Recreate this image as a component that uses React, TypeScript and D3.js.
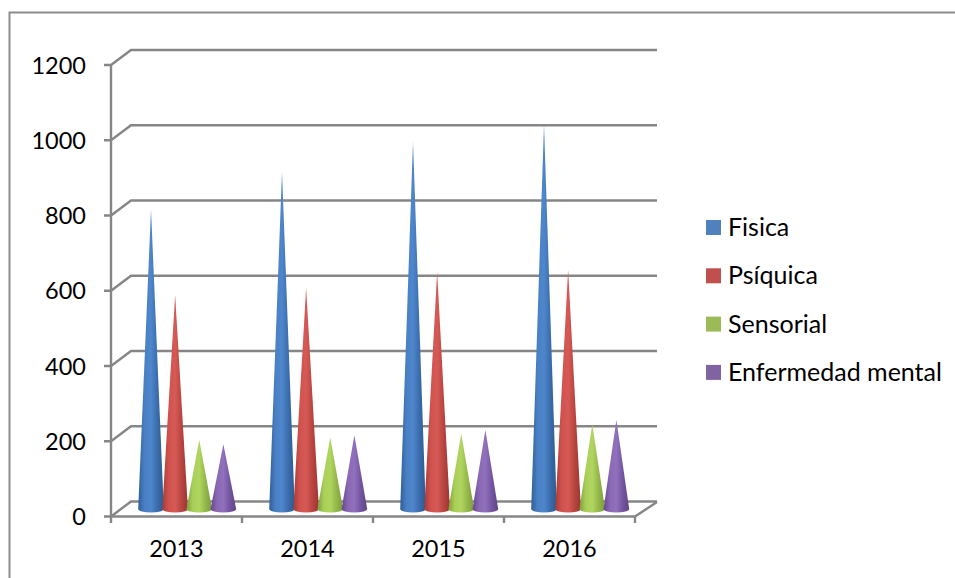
import React from "react";
import * as d3 from "d3";

const categories = ["2013", "2014", "2015", "2016"];
const seriesNames = ["Fisica", "Psíquica", "Sensorial", "Enfermedad mental"];
const fisica = [795, 895, 975, 1020];
const psiquica = [568, 587, 630, 635];
const sensorial = [183, 190, 200, 225];
const enfermedad = [172, 196, 210, 236];
const seriesValues = [fisica, psiquica, sensorial, enfermedad];
const yTicks = [0, 200, 400, 600, 800, 1000, 1200];
const legendColors = ["#4f81bd", "#c0504d", "#9bbb59", "#8064a2"];
const gradientStops = [
  ["#2f5f98", "#4a80c4", "#4f86cc", "#3a6cab", "#2c5a92"],
  ["#a83a36", "#d0524e", "#d65a55", "#b84440", "#9c3431"],
  ["#7f9f3e", "#a9cf58", "#b0d660", "#93b649", "#7c9b3b"],
  ["#62478a", "#8a68b4", "#9070bc", "#7454a0", "#5e4484"],
];
const FONT = "Lato, Carlito, sans-serif";
const GRID = "#868686";

export default function App() {
  const yFront = d3.scaleLinear().domain([0, 1200]).range([516.5, 65]);
  const yBack = d3.scaleLinear().domain([0, 1200]).range([502, 49]);
  const yCone = d3.scaleLinear().domain([0, 1200]).range([509, 57]);
  const xFront = d3.scaleBand().domain(categories).range([111, 635]);
  const band = d3.scaleBand().domain(seriesNames).range([0, 96.5]);
  const baseX = (c: string) => xFront(c)! + 40;
  const hw = 12.8;
  const dx = 20;
  const dyF = 15;
  const sw = 2.4;
  return (
    <svg width={955} height={578} style={{ position: "absolute", left: 0, top: 0, background: "#fff" }}>
      <defs>
        <filter id="soft" x="-20%" y="-5%" width="140%" height="110%">
          <feGaussianBlur stdDeviation="0.45" />
        </filter>
        {gradientStops.map((stops, i) => (
          <linearGradient key={i} id={`g${i}`} x1="0" x2="1" y1="0" y2="0">
            {stops.map((s, k) => (
              <stop key={k} offset={k / (stops.length - 1)} stopColor={s} />
            ))}
          </linearGradient>
        ))}
      </defs>
      <path d="M9.5 578V12.5H955" fill="none" stroke="#8c8c8c" strokeWidth={2} />
      {yTicks.map((t) => (
        <g key={t} stroke={GRID} strokeWidth={sw} fill="none">
          <path d={`M${104} ${yFront(t)}H111L${111 + dx} ${yFront(t) - dyF}H657`} />
        </g>
      ))}
      <path d={`M111 ${yFront(1200)}V${yFront(0)}H635L657 ${yBack(0)}`} fill="none" stroke={GRID} strokeWidth={sw} />
      {[...categories.map((c) => xFront(c)!), 635].map((x, i) => (
        <line key={i} x1={x} x2={x} y1={516.5} y2={523} stroke={GRID} strokeWidth={sw} />
      ))}
      <g filter="url(#soft)">
        {categories.map((c, ci) =>
          seriesNames.map((s, si) => {
            const cx = baseX(c) + band(s)!;
            const base = yCone(0);
            const tip = yCone(seriesValues[si][ci]);
            return (
              <path
                key={s + c}
                d={`M${cx - hw} ${base}L${cx} ${tip}L${cx + hw} ${base}A${hw} 3.5 0 0 1 ${cx - hw} ${base}Z`}
                fill={`url(#g${si})`}
              />
            );
          })
        )}
      </g>
      {yTicks.map((t) => (
        <text key={t} x={86} y={yFront(t) + 8.5} textAnchor="end" fontFamily={FONT} fontSize={23.5} fill="#000">
          {t}
        </text>
      ))}
      {categories.map((c) => (
        <text key={c} x={xFront(c)! + xFront.bandwidth() / 2} y={557} textAnchor="middle" fontFamily={FONT} fontSize={23.5} fill="#000">
          {c}
        </text>
      ))}
      {seriesNames.map((s, i) => (
        <g key={s}>
          <rect x={706} y={220 + i * 48.3} width={15} height={15} fill={legendColors[i]} />
          <text x={728} y={236 + i * 48.3} fontFamily={FONT} fontSize={25} fill="#000">
            {s}
          </text>
        </g>
      ))}
    </svg>
  );
}
